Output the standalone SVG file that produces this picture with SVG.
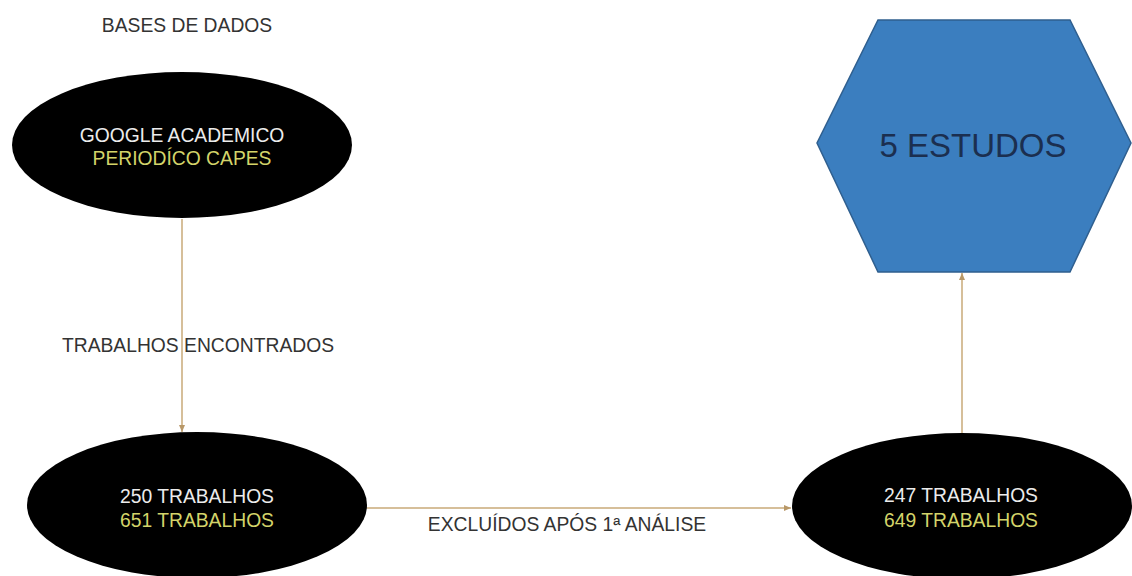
<svg xmlns="http://www.w3.org/2000/svg" width="1132" height="576" viewBox="0 0 1132 576">
<defs>
<marker id="arr" markerWidth="8" markerHeight="8" refX="7" refY="4" orient="auto" markerUnits="userSpaceOnUse">
<path d="M0,1 L7,4 L0,7 Z" fill="#b89868"/>
</marker>
<style>
text{font-family:"Liberation Sans",Arial,sans-serif;text-anchor:middle}
.lbl{font-size:19.3px;fill:#333333}
.w{font-size:19.3px;fill:#ececec}
.y{font-size:19.3px;fill:#d3d46a}
.node{fill:#000000}
.con{stroke:#c9aa78;stroke-width:1.5;fill:none}
</style>
</defs>
<rect width="1132" height="576" fill="#ffffff"/>
<text class="lbl" x="187" y="32">BASES DE DADOS</text>
<g id="connectors">
<line class="con" x1="182" y1="219" x2="182" y2="432" marker-end="url(#arr)"/>
<line class="con" x1="367" y1="508" x2="791" y2="508" marker-end="url(#arr)"/>
<line class="con" x1="962" y1="433" x2="962" y2="273" marker-end="url(#arr)"/>
<text class="lbl" x="198" y="352">TRABALHOS ENCONTRADOS</text>
<text class="lbl" x="567" y="531">EXCLUÍDOS APÓS 1ª ANÁLISE</text>
</g>
<g id="n1">
<ellipse class="node" cx="182" cy="145" rx="170" ry="73"/>
<text class="w" x="182" y="142">GOOGLE ACADEMICO</text>
<text class="y" x="182" y="165">PERIODÍCO CAPES</text>
</g>
<g id="n2">
<ellipse class="node" cx="197" cy="505" rx="170" ry="73"/>
<text class="w" x="197" y="503">250 TRABALHOS</text>
<text class="y" x="197" y="527">651 TRABALHOS</text>
</g>
<g id="n3">
<ellipse class="node" cx="962" cy="506" rx="170" ry="73"/>
<text class="w" x="961" y="502">247 TRABALHOS</text>
<text class="y" x="961" y="527">649 TRABALHOS</text>
</g>
<g id="n4">
<polygon points="878,20 1070,20 1131,143 1070,272 878,272 817,143" fill="#3b7ebf" stroke="#2f5f8f" stroke-width="1.5"/>
<text x="973" y="157" style="font-size:33px;fill:#1b2f50">5 ESTUDOS</text>
</g>
</svg>
